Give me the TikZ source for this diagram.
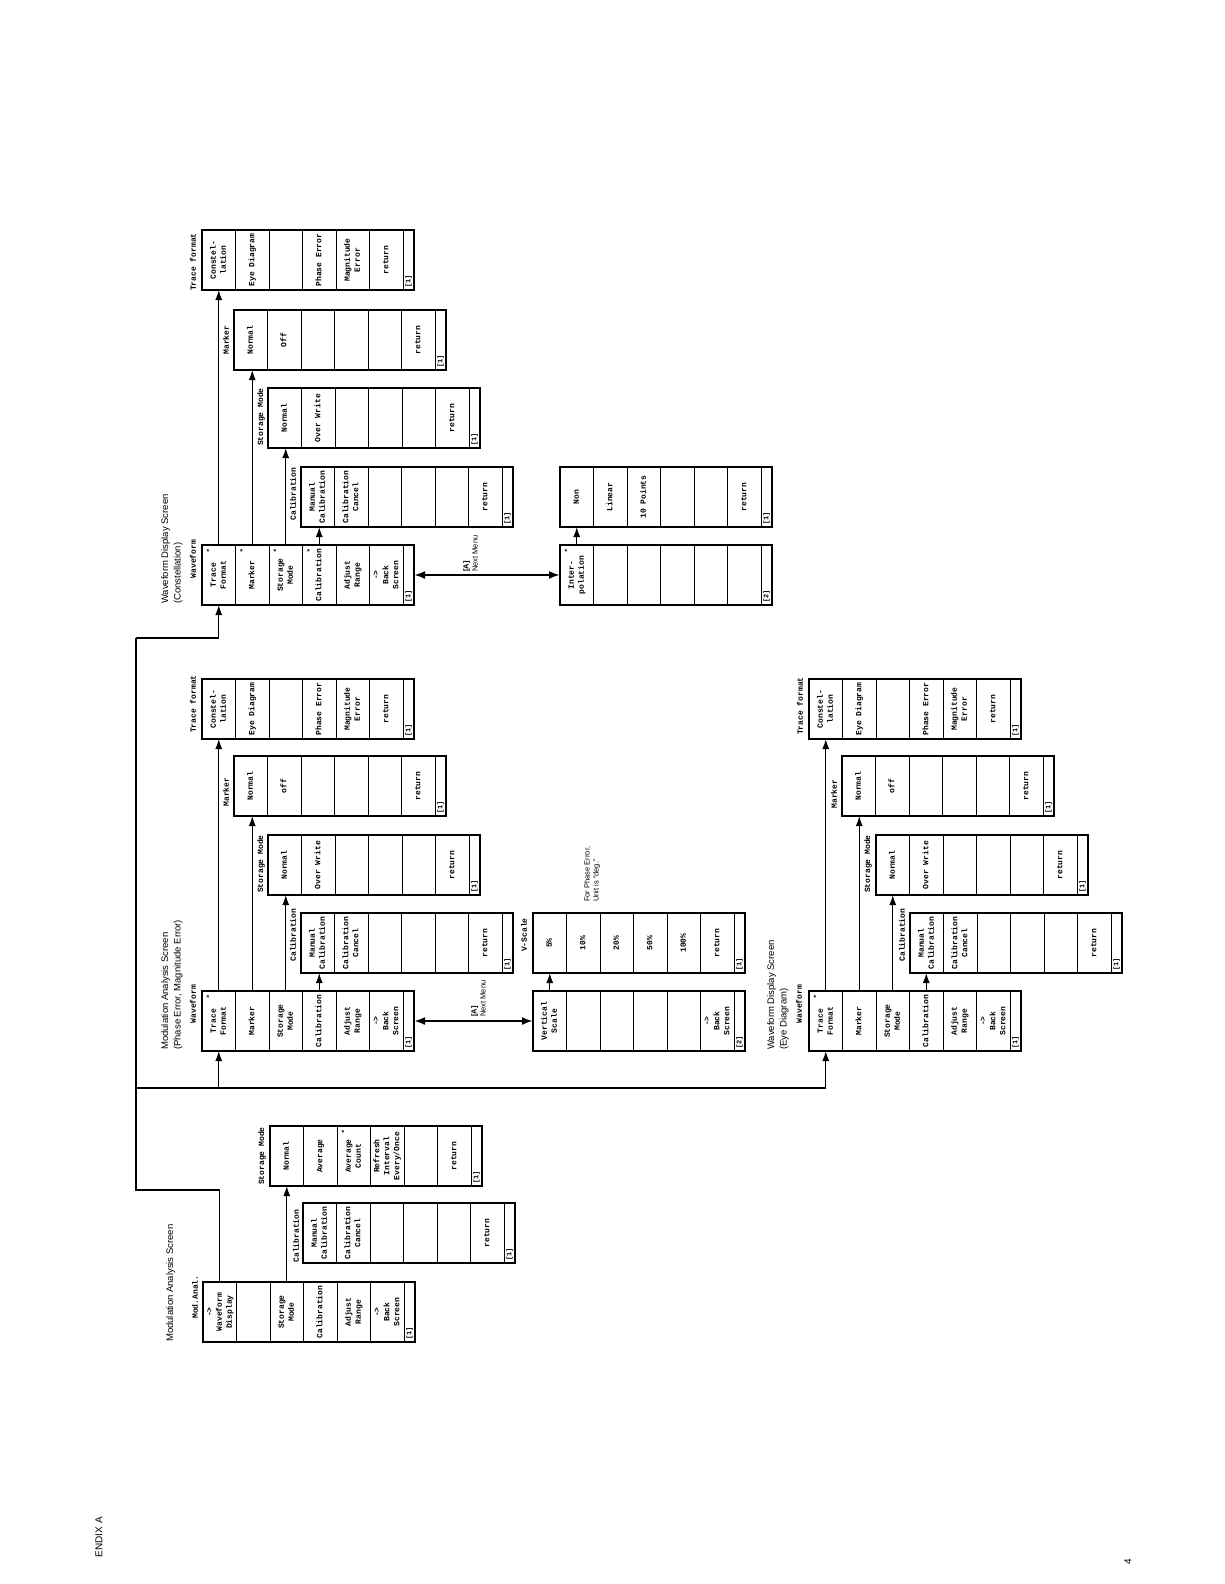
\documentclass[tikz,border=0pt]{standalone}
\usepackage{fontspec}
\usepackage{graphicx}
\setmainfont{Liberation Sans}
\newfontfamily\dotfont{Liberation Mono}
\usetikzlibrary{arrows.meta}

\newcommand\ct[1]{\begin{tabular}{@{}c@{}}#1\end{tabular}}
\newcommand\drawmenu[5]{%
  \foreach \t [count=\i] in {#4} {%
    \node[cell] (#1-\i) at ({#2+(\i-1)*33.5},#3) {\rotatebox{90}{\ct{\t}}};
  }%
  \node[endcell] (#1-7) at ({#2+201},#3) {};
  \node[numlbl] (#1-n) at (#1-7.south) {\rotatebox{90}{#5}};
  \draw[menuframe] (#1-1.north west) rectangle (#1-7.south east);
}

\tikzset{
  cell/.style={draw, line width=0.9pt, anchor=north west, minimum width=33.5pt,
    minimum height=60pt, inner sep=0pt, outer sep=0pt,
    font=\dotfont\bfseries\fontsize{8}{10}\selectfont},
  endcell/.style={cell, minimum width=11pt},
  numlbl/.style={anchor=south, inner sep=2pt, font=\dotfont\bfseries\fontsize{7}{8}\selectfont},
  menuframe/.style={line width=1.8pt},
  lbl/.style={rotate=90, inner sep=1pt, font=\dotfont\bfseries\fontsize{8}{10}\selectfont},
  ttl/.style={rotate=90, anchor=north west, align=left, inner sep=0pt,
    font=\fontsize{9.5}{12.5}\selectfont},
  note/.style={rotate=90, anchor=north west, align=left, inner sep=0pt,
    font=\fontsize{7.5}{9}\selectfont},
  starmark/.style={inner sep=0pt, font=\dotfont\bfseries\fontsize{7}{7}\selectfont},
  arr/.style={-{Latex[length=10pt,width=7pt]}, line width=1.3pt},
  darr/.style={{Latex[length=11pt,width=8pt]}-{Latex[length=11pt,width=8pt]}, line width=2.2pt},
  trunk/.style={line width=1.4pt}
}

\begin{document}
\begin{tikzpicture}[x=1pt,y=-1pt]
\useasboundingbox (0,0) rectangle (1224,1584);
\fill[white] (0,0) rectangle (1224,1584);

% ---------- Group A: Waveform Display Screen (Constellation)
\drawmenu{WA}{202}{545}{{Trace\\Format},{Marker},{Storage\\Mode},{Calibration},{Adjust\\Range},{->\\Back\\Screen}}{[1]}
\drawmenu{AT}{202}{230}{{Constel-\\lation},{Eye Diagram},{},{Phase Error},{Magnitude\\Error},{return}}{[1]}
\drawmenu{AM}{234}{310}{{Normal},{Off},{},{},{},{return}}{[1]}
\drawmenu{AS}{268}{388}{{Normal},{Over Write},{},{},{},{return}}{[1]}
\drawmenu{AC}{301}{467}{{Manual\\Calibration},{Calibration\\Cancel},{},{},{},{return}}{[1]}
\drawmenu{AI}{560}{545}{{Inter-\\polation},{},{},{},{},{}}{[2]}
\drawmenu{AO}{560}{467}{{Non},{Linear},{10 Points},{},{},{return}}{[1]}

\node[ttl] (tA) at (161,604) {Waveform Display Screen\\(Constellation)};
\node[lbl] (lA0) at (193,559) {Waveform};
\node[lbl] (lA1) at (193,262) {Trace format};
\node[lbl] (lA2) at (226,340) {Marker};
\node[lbl] (lA3) at (261,417) {Storage Mode};
\node[lbl] (lA4) at (293,494) {Calibration};
\node[note] (nA) at (463,572) {\textbf{[A]}\\Next Menu};

\draw[arr] (WA-1.north) -- (AT-1.south);
\draw[arr] (WA-2.north) -- (WA-2.north |- AM-1.south);
\draw[arr] (WA-3.north) -- (WA-3.north |- AS-1.south);
\draw[arr] (WA-4.north) -- (WA-4.north |- AC-1.south);
\draw[arr] (AI-1.north) -- (AO-1.south);
\draw[darr] (WA-7.east) -- (AI-1.west);

% ---------- Group B: Modulation Analysis Screen (Phase Error, Magnitude Error)
\drawmenu{MB}{202}{991}{{Trace\\Format},{Marker},{Storage\\Mode},{Calibration},{Adjust\\Range},{->\\Back\\Screen}}{[1]}
\drawmenu{BT}{202}{679}{{Constel-\\lation},{Eye Diagram},{},{Phase Error},{Magnitude\\Error},{return}}{[1]}
\drawmenu{BM}{234}{756}{{Normal},{off},{},{},{},{return}}{[1]}
\drawmenu{BS}{268}{835}{{Normal},{Over Write},{},{},{},{return}}{[1]}
\drawmenu{BC}{301}{913}{{Manual\\Calibration},{Calibration\\Cancel},{},{},{},{return}}{[1]}
\drawmenu{BV}{533}{991}{{Vertical\\Scale},{},{},{},{},{->\\Back\\Screen}}{[2]}
\drawmenu{BO}{533}{913}{{5\%},{10\%},{20\%},{50\%},{100\%},{return}}{[1]}

\node[ttl] (tB) at (161,1050) {Modulation Analysis Screen\\(Phase Error, Magnitude Error)};
\node[lbl] (lB0) at (193,1004) {Waveform};
\node[lbl] (lB1) at (193,704) {Trace format};
\node[lbl] (lB2) at (226,792) {Marker};
\node[lbl] (lB3) at (261,864) {Storage Mode};
\node[lbl] (lB4) at (293,935) {Calibration};
\node[lbl] (lB5) at (524,935) {V-Scale};
\node[note] (nB) at (471,1017) {\textbf{[A]}\\Next Menu};
\node[note] (fB) at (584,902) {For Phase Error,\\Unit is \textquotedblleft deg.\textquotedblright};

\draw[arr] (MB-1.north) -- (BT-1.south);
\draw[arr] (MB-2.north) -- (MB-2.north |- BM-1.south);
\draw[arr] (MB-3.north) -- (MB-3.north |- BS-1.south);
\draw[arr] (MB-4.north) -- (MB-4.north |- BC-1.south);
\draw[arr] (BV-1.north) -- (BO-1.south);
\draw[darr] (MB-7.east) -- (BV-1.west);

% ---------- Group C: Waveform Display Screen (Eye Diagram)
\drawmenu{MC}{809}{991}{{Trace\\Format},{Marker},{Storage\\Mode},{Calibration},{Adjust\\Range},{->\\Back\\Screen}}{[1]}
\drawmenu{CT}{809}{679}{{Constel-\\lation},{Eye Diagram},{},{Phase Error},{Magnitude\\Error},{return}}{[1]}
\drawmenu{CM}{842}{756}{{Normal},{off},{},{},{},{return}}{[1]}
\drawmenu{CS}{876}{835}{{Normal},{Over Write},{},{},{},{return}}{[1]}
\drawmenu{CC}{910}{913}{{Manual\\Calibration},{Calibration\\Cancel},{},{},{},{return}}{[1]}

\node[ttl] (tC) at (767,1050) {Waveform Display Screen\\(Eye Diagram)};
\node[lbl] (lC0) at (799,1004) {Waveform};
\node[lbl] (lC1) at (800,706) {Trace format};
\node[lbl] (lC2) at (834,794) {Marker};
\node[lbl] (lC3) at (868,864) {Storage Mode};
\node[lbl] (lC4) at (902,935) {Calibration};

\draw[arr] (MC-1.north) -- (CT-1.south);
\draw[arr] (MC-2.north) -- (MC-2.north |- CM-1.south);
\draw[arr] (MC-3.north) -- (MC-3.north |- CS-1.south);
\draw[arr] (MC-4.north) -- (MC-4.north |- CC-1.south);

% ---------- Group D: Modulation Analysis Screen
\drawmenu{MD}{203}{1282}{{->\\Waveform\\Display},{},{Storage\\Mode},{Calibration},{Adjust\\Range},{->\\Back\\Screen}}{[1]}
\drawmenu{DS}{270}{1126}{{Normal},{Average},{Average\\Count},{Refresh\\Interval\\Every/Once},{},{return}}{[1]}
\drawmenu{DC}{303}{1203}{{Manual\\Calibration},{Calibration\\Cancel},{},{},{},{return}}{[1]}

\node[ttl] (tD) at (166,1342) {Modulation Analysis Screen};
\node[lbl] (lD0) at (195,1297) {Mod.Anal.};
\node[lbl] (lD1) at (262,1156) {Storage Mode};
\node[lbl] (lD2) at (296,1236) {Calibration};

\draw[arr] (MD-3.north) -- (MD-3.north |- DS-1.south);

% ---------- small marks
\node[starmark] (sW1) at ([xshift=6pt,yshift=-7pt]WA-1.north west) {*};
\node[starmark] (sW2) at ([xshift=6pt,yshift=-7pt]WA-2.north west) {*};
\node[starmark] (sW3) at ([xshift=6pt,yshift=-7pt]WA-3.north west) {*};
\node[starmark] (sW4) at ([xshift=6pt,yshift=-7pt]WA-4.north west) {*};
\node[starmark] (sB1) at ([xshift=6pt,yshift=-7pt]MB-1.north west) {*};
\node[starmark] (sC1) at ([xshift=6pt,yshift=-7pt]MC-1.north west) {*};
\node[starmark] (sI1) at ([xshift=6pt,yshift=-7pt]AI-1.north west) {*};
\node[starmark] (sD3) at ([xshift=6pt,yshift=-7pt]DS-3.north west) {*};

% ---------- trunk connectors
\coordinate (j1) at (136,1190);
\coordinate (j2) at (136,1088);
\coordinate (j3) at (136,638);
\draw[trunk] (MD-1.north) |- (j1) -- (j3);
\draw[trunk,arr] (j3) -| (WA-1.south);
\draw[trunk,arr] (j2) -| (MC-1.south);
\draw[trunk,arr] (MB-1.south |- j2) -- (MB-1.south);

% ---------- page remnants
\node[rotate=90, anchor=east, inner sep=0pt, font=\fontsize{10}{12}\selectfont] (app) at (99,1517) {ENDIX A};
\node[rotate=90, inner sep=0pt, font=\fontsize{10}{12}\selectfont] (pg) at (1128,1562) {4};
\end{tikzpicture}
\end{document}
